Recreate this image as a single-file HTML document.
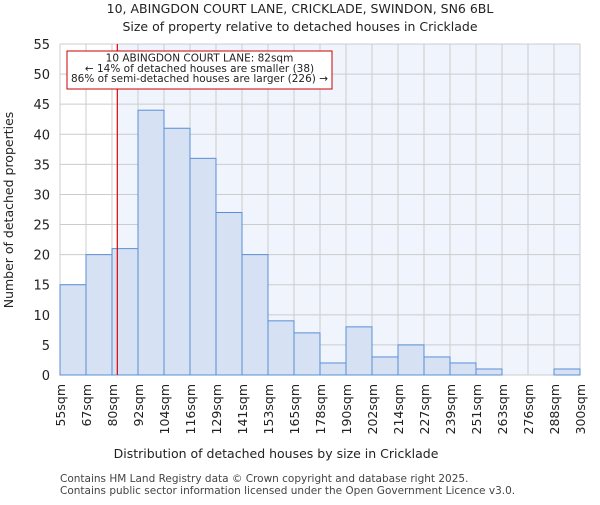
<!DOCTYPE html>
<html><head><meta charset="utf-8"><style>
body{margin:0;background:#fff;font-family:"Liberation Sans","DejaVu Sans",sans-serif}
</style></head><body>
<svg width="600" height="500" xmlns="http://www.w3.org/2000/svg" font-family="DejaVu Sans, Liberation Sans, sans-serif">
<text x="300" y="13" text-anchor="middle" font-size="12.5" fill="#222">10, ABINGDON COURT LANE, CRICKLADE, SWINDON, SN6 6BL</text>
<text x="300" y="31" text-anchor="middle" font-size="12.5" fill="#222">Size of property relative to detached houses in Cricklade</text>
<g id="plot"></g>
<text x="276" y="458" text-anchor="middle" font-size="12.5" fill="#222">Distribution of detached houses by size in Cricklade</text>
<text transform="translate(13,210) rotate(-90)" text-anchor="middle" font-size="12.5" fill="#222">Number of detached properties</text>
<text x="60" y="482" font-size="10.5" fill="#444">Contains HM Land Registry data © Crown copyright and database right 2025.</text>
<text x="60" y="494" font-size="10.5" fill="#444">Contains public sector information licensed under the Open Government Licence v3.0.</text>
</svg>
<script>
const binLabels=["55sqm","67sqm","80sqm","92sqm","104sqm","116sqm","129sqm","141sqm","153sqm","165sqm","178sqm","190sqm","202sqm","214sqm","227sqm","239sqm","251sqm","263sqm","276sqm","288sqm","300sqm"];
const counts=[15,20,21,44,41,36,27,20,9,7,2,8,3,5,3,2,1,0,0,1];
const yTicks=[0,5,10,15,20,25,30,35,40,45,50,55];
const propertySize=82;
const edgeStart=55, binSize=12.25;
const X0=60,X1=580,Y0=375,Y1=44,YMAX=55;
const bw=(X1-X0)/counts.length;
const xi=i=>X0+i*bw;
const xv=v=>X0+(v-edgeStart)/binSize*bw;
const y=v=>Y0-(v/YMAX)*(Y0-Y1);
const NS="http://www.w3.org/2000/svg";
const g=document.getElementById('plot');
function mk(t,a){const e=document.createElementNS(NS,t);for(const k in a)e.setAttribute(k,a[k]);g.appendChild(e);return e;}
const rx=xv(propertySize);
let e=mk('rect',{x:X0,y:Y1,width:X1-X0,height:Y0-Y1,fill:'#ffffff'});


e=mk('rect',{x:rx,y:Y1,width:X1-rx,height:Y0-Y1,fill:'#f0f4fc'});


yTicks.forEach(t=>{
 e=mk('line',{x1:X0,x2:X1,y1:y(t),y2:y(t),stroke:'#cccccc','stroke-width':1});
 
 
 e=mk('text',{x:50,y:y(t)+5,'text-anchor':'end','font-size':13,fill:'#222'});
 e.textContent=t;
 
 
});
binLabels.forEach((l,i)=>{
 e=mk('line',{x1:xi(i),x2:xi(i),y1:Y1,y2:Y0,stroke:'#cccccc','stroke-width':1});
 
 
 e=mk('text',{transform:`translate(${xi(i)+5},384) rotate(-90)`,'text-anchor':'end','font-size':12.5,fill:'#222'});
 e.textContent=l;
 
 
});
counts.forEach((c,i)=>{
 e=mk('rect',{x:xi(i),y:y(c),width:bw,height:Y0-y(c),fill:'#d6e1f3',stroke:'#5b8fd6','stroke-width':1});
 
 
});
e=mk('line',{x1:rx,x2:rx,y1:Y1,y2:Y0,stroke:'#e00000','stroke-width':1.2});


e=mk('rect',{x:67,y:51,width:265,height:38,fill:'#fff',stroke:'#cc0000','stroke-width':1});


["10 ABINGDON COURT LANE: 82sqm","← 14% of detached houses are smaller (38)","86% of semi-detached houses are larger (226) →"].forEach((s,i)=>{
 e=mk('text',{x:199.5,y:61.5+i*10.3,'text-anchor':'middle','font-size':10.5,fill:'#222'});
 e.textContent=s;
 
 
});
</script>
</body></html>
